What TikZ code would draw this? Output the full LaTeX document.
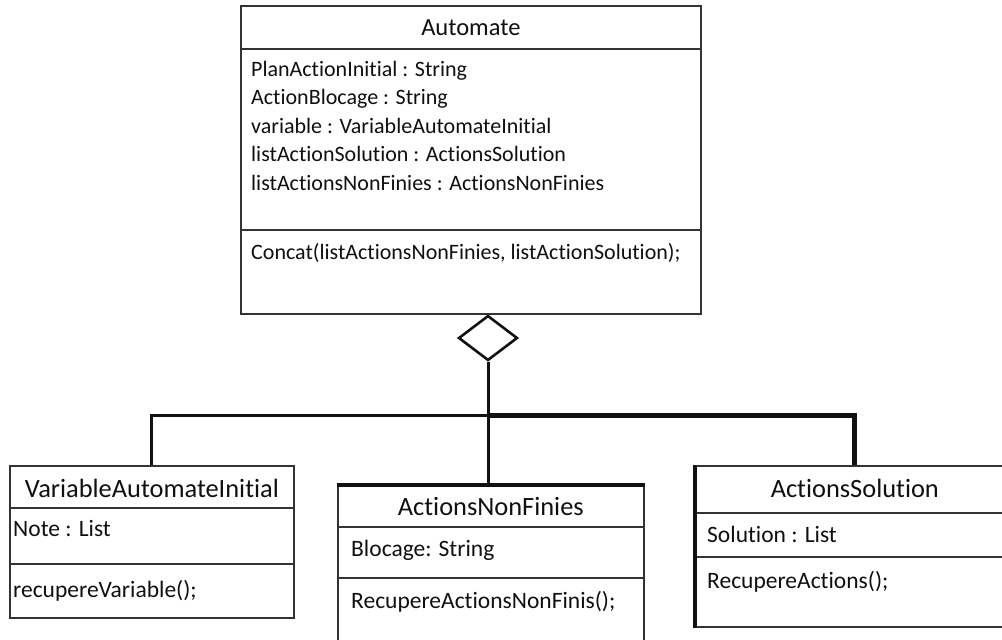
\documentclass[tikz,border=0pt]{standalone}
\usepackage{fontspec}
\setmainfont{Carlito}[Ligatures=NoCommon, RawFeature={-liga;-clig;-calt}]
\usetikzlibrary{
  calc,
  positioning,
  shapes.geometric
}
\definecolor{ink}{HTML}{101010}
\definecolor{frame}{HTML}{333333}
\definecolor{wire}{HTML}{111111}
\tikzset{
  classbox/.style={
    draw=frame,
    line width=1.7pt,
    fill=white,
    anchor=north west,
    inner sep=0pt
  },
  divider/.style={
    draw=frame,
    line width=1.7pt
  },
  wireline/.style={
    draw=wire,
    line width=3pt
  },
  heavywire/.style={
    draw=wire,
    line width=5pt
  },
  boldside/.style={
    draw=wire,
    line width=3.5pt
  },
  classname/.style={
    anchor=base,
    inner sep=0pt,
    text=ink,
    font=\fontsize{24.5}{29}\selectfont
  },
  member/.style={
    anchor=base west,
    inner sep=0pt,
    text=ink,
    font=\fontsize{22}{28}\selectfont
  },
  classnamebig/.style={
    classname,
    font=\fontsize{26.4}{31}\selectfont
  },
  memberbig/.style={
    member,
    font=\fontsize{23.5}{28}\selectfont
  },
  aggregation/.style={
    diamond,
    draw=wire,
    line width=2.6pt,
    fill=white,
    inner sep=0pt,
    minimum width=59pt,
    minimum height=45pt
  }
}

\begin{document}
\begin{tikzpicture}[x=1pt, y=-1pt]
  \useasboundingbox (0,0) rectangle (1002,640);

  % class Automate
  \node[classbox, minimum width=460pt, minimum height=308pt] (auto) at (240,5) {};
  \node[classname] (autoname) at ($(auto.north)+(0,30)$) {Automate};
  \draw[divider] ($(auto.north west)+(0,44)$) -- ($(auto.north east)+(0,44)$);
  \draw[divider] ($(auto.north west)+(0,225)$) -- ($(auto.north east)+(0,225)$);
  \foreach \txt [count=\i] in {PlanActionInitial : String, ActionBlocage : String,
      variable : VariableAutomateInitial, listActionSolution : ActionsSolution,
      listActionsNonFinies : ActionsNonFinies}
    \node[member] (autoattr\i) at ($(auto.north west)+(11,{42.5+28.5*\i})$) {\txt};
  \node[member] (automethod) at ($(auto.north west)+(11,254)$)
    {Concat(listActionsNonFinies, listActionSolution);};

  % class VariableAutomateInitial
  \node[classbox, minimum width=284pt, minimum height=152pt] (vai) at (9,465) {};
  \node[classnamebig] (vainame) at ($(vai.north)+(0,32)$) {VariableAutomateInitial};
  \draw[divider] ($(vai.north west)+(0,43)$) -- ($(vai.north east)+(0,43)$);
  \draw[divider] ($(vai.north west)+(0,99)$) -- ($(vai.north east)+(0,99)$);
  \node[memberbig] (vaiattr) at ($(vai.north west)+(4,71)$) {Note : List};
  \node[memberbig] (vaimethod) at ($(vai.north west)+(4,132)$) {recupereVariable();};

  % class ActionsNonFinies
  \node[classbox, minimum width=306pt, minimum height=165pt] (anf) at (337,485) {};
  \node[classnamebig] (anfname) at ($(anf.north)+(0,30)$) {ActionsNonFinies};
  \draw[divider] ($(anf.north west)+(0,42)$) -- ($(anf.north east)+(0,42)$);
  \draw[divider] ($(anf.north west)+(0,93)$) -- ($(anf.north east)+(0,93)$);
  \node[memberbig] (anfattr) at ($(anf.north west)+(14,71)$) {Blocage: String};
  \node[memberbig] (anfmethod) at ($(anf.north west)+(14,123)$) {RecupereActionsNonFinis();};
  \draw[boldside] (anf.north west) -- (anf.north east);

  % class ActionsSolution
  \node[classbox, minimum width=318pt, minimum height=161pt] (sol) at (695,465) {};
  \node[classnamebig] (solname) at ($(sol.north)+(0,32)$) {ActionsSolution};
  \draw[divider] ($(sol.north west)+(0,48)$) -- ($(sol.north east)+(0,48)$);
  \draw[divider] ($(sol.north west)+(0,92)$) -- ($(sol.north east)+(0,92)$);
  \node[memberbig] (solattr) at ($(sol.north west)+(12,77)$) {Solution : List};
  \node[memberbig] (solmethod) at ($(sol.north west)+(12,123)$) {RecupereActions();};
  \draw[boldside] (sol.north west) -- (sol.south west);

  % aggregation
  \node[aggregation] (agg) at (488,338) {};
  \coordinate (junction) at (488,415);
  \draw[wireline] (agg.south) -- (junction);
  \draw[wireline] (junction) -| (vai.north);
  \draw[wireline] (junction) -- (junction |- anf.north);
  \draw[heavywire] (junction) -| (sol.north);
\end{tikzpicture}
\end{document}
